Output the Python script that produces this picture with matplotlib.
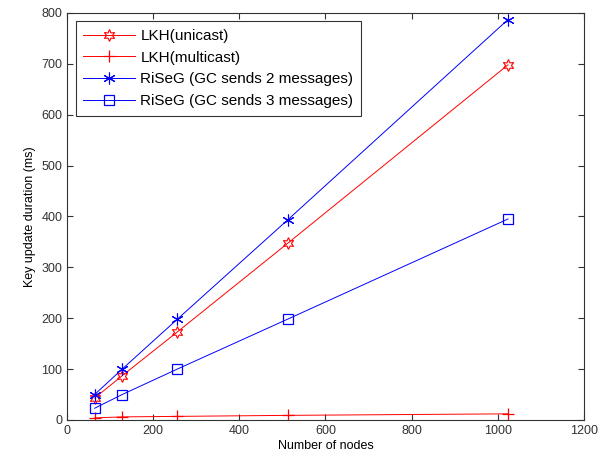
import matplotlib
matplotlib.use("Agg")
import matplotlib.pyplot as plt

nodes = [64, 128, 256, 512, 1024]
lkh_unicast = [43, 87, 173, 347, 698]
lkh_multicast = [4, 6, 7, 9, 12]
riseg_2msg = [50, 100, 198, 393, 787]
riseg_3msg = [23, 50, 100, 198, 395]

plt.rcParams['font.family'] = ['Liberation Sans', 'DejaVu Sans']
fig = plt.figure(figsize=(6.1, 4.63), dpi=100)
ax = fig.add_axes([0.110, 0.093, 0.847, 0.879])

lw = 0.7
ax.plot(nodes, lkh_unicast, color='red', marker=(6, 1, 0), markersize=8.5, markerfacecolor='none',
        markeredgewidth=0.8, lw=lw, label='LKH(unicast)')
ax.plot(nodes, lkh_multicast, color='red', marker='+', markersize=8, markeredgewidth=0.9,
        lw=lw, label='LKH(multicast)')
ax.plot(nodes, riseg_2msg, color='blue', marker=(6, 2, 0), markersize=8.5, markeredgewidth=0.8,
        lw=lw, label='RiSeG (GC sends 2 messages)')
ax.plot(nodes, riseg_3msg, color='blue', marker='s', markersize=7.5, markerfacecolor='none',
        markeredgewidth=0.9, lw=lw, label='RiSeG (GC sends 3 messages)')

ax.set_xlim(0, 1200)
ax.set_ylim(0, 800)
ax.set_xticks(range(0, 1201, 200))
ax.set_yticks(range(0, 801, 100))
ax.tick_params(direction='in', top=True, right=True, labelsize=9, length=4, colors='#333333')
for s in ax.spines.values():
    s.set_color('#333333')
    s.set_linewidth(0.8)
ax.set_xlabel('Number of nodes', fontsize=9, labelpad=2)
ax.set_ylabel('Key update duration (ms)', fontsize=9, labelpad=4)

leg = ax.legend(loc='upper left', fontsize=11, frameon=True, fancybox=False,
                edgecolor='black', handlelength=3.4, borderpad=0.5, labelspacing=0.5,
                handletextpad=0.35, borderaxespad=0.55)
leg.get_frame().set_linewidth(0.8)

fig.savefig('out.png', dpi=100)
